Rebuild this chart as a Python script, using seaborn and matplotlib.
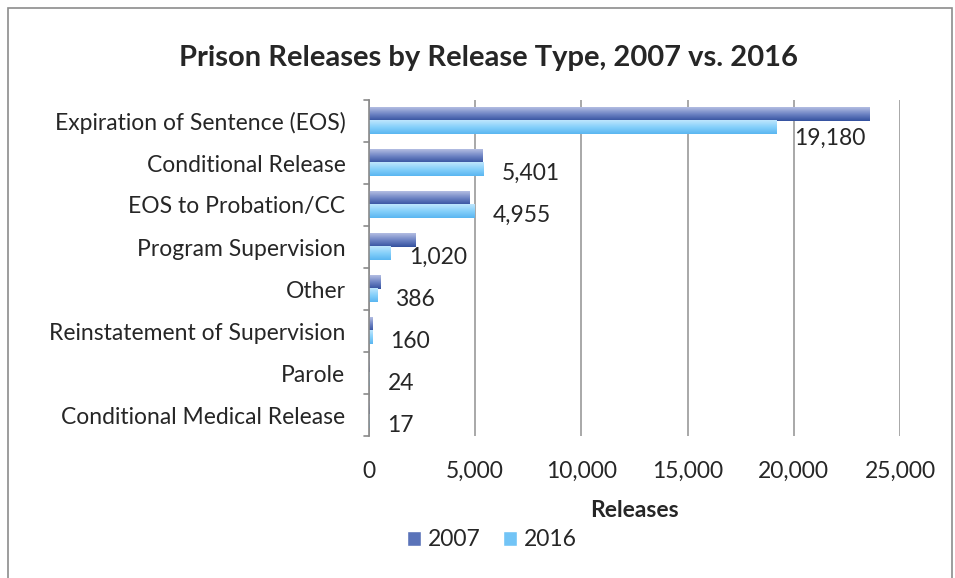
import numpy as np
import pandas as pd
import matplotlib
matplotlib.use("Agg")
import matplotlib.pyplot as plt
import matplotlib.patches as mpatches
from matplotlib.colors import LinearSegmentedColormap
import seaborn as sns

categories = ["Expiration of Sentence (EOS)", "Conditional Release", "EOS to Probation/CC",
              "Program Supervision", "Other", "Reinstatement of Supervision", "Parole",
              "Conditional Medical Release"]
releases_2007 = [23570, 5350, 4750, 2180, 545, 170, 40, 12]
releases_2016 = [19180, 5401, 4955, 1020, 386, 160, 24, 17]
years = ["2007", "2016"]
x_ticks = [0, 5000, 10000, 15000, 20000, 25000]

df = pd.DataFrame({
    "type": categories * 2,
    "year": [years[0]] * len(categories) + [years[1]] * len(categories),
    "releases": releases_2007 + releases_2016,
})

sns.set_theme(style="white")
plt.rcParams['font.family'] = ['Lato', 'DejaVu Sans']
FS = 16.5

fig = plt.figure(figsize=(9.55, 5.78), dpi=100)
ax = fig.add_axes([369/955, 1 - 436/578, 531/955, 336/578])

sns.barplot(data=df, y="type", x="releases", hue="year", order=categories,
            hue_order=years, palette=["#5a73b9", "#72c4f6"], width=0.62,
            orient="h", ax=ax, legend=False)

# gradient fill like the original
grads = {
    0: LinearSegmentedColormap.from_list("g07", ["#b3bde2", "#6e84c4", "#34519f"]),
    1: LinearSegmentedColormap.from_list("g16", ["#bfe6fd", "#86d0fa", "#5ab6f1"]),
}
n = len(categories)
bars = list(ax.patches)
for i, p in enumerate(bars[:2 * n]):
    cmap = grads[i // n]
    x0, y0 = p.get_x(), p.get_y()
    w, h = p.get_width(), p.get_height()
    grad = np.linspace(0, 1, 64).reshape(-1, 1)
    ax.imshow(grad, cmap=cmap, origin="lower", aspect="auto",
              extent=(x0, x0 + w, y0, y0 + h), zorder=3)
    p.set_visible(False)

ax.set_xlim(0, 25000)
ax.set_ylim(n - 0.5, -0.5)
ax.set_xticks(x_ticks)
ax.set_xticklabels([f"{v:,}" for v in x_ticks], fontsize=FS)
ax.tick_params(axis="x", length=0, pad=18)
ax.set_yticks(np.arange(n))
ax.set_yticklabels(categories, fontsize=FS)
ax.tick_params(axis="y", length=0, pad=17)
ax.set_ylabel("")
ax.set_xlabel("Releases", fontsize=FS, fontweight="bold", labelpad=13)

ax.grid(axis="x", color="#9a9a9a", linewidth=1.2)
ax.set_axisbelow(True)
for s in ["top", "right", "bottom"]:
    ax.spines[s].set_visible(False)
ax.spines["left"].set_color("#8a8a8a")
ax.spines["left"].set_linewidth(1.2)
ax.spines["left"].set_zorder(4)

# tick marks between categories on the left axis
for b in np.arange(-0.5, n + 0.5, 1):
    ax.plot([-230, 0], [b, b], color="#8a8a8a", lw=1.2, clip_on=False, zorder=4)

# value labels for 2016
for i, v in enumerate(releases_2016):
    dy = -8 if i == 0 else -3
    ax.annotate(f"{v:,}", xy=(v, i + 0.155), xytext=(13, dy), textcoords="offset points",
                ha="left", va="center", fontsize=FS, zorder=5)

fig.text(488/955, 1 - 58/578, "Prison Releases by Release Type, 2007 vs. 2016",
         ha="center", va="center", fontsize=21, fontweight="bold")

handles = [mpatches.Patch(facecolor="#5a73b9", label="2007"),
           mpatches.Patch(facecolor="#72c4f6", label="2016")]
fig.legend(handles=handles, loc="center", bbox_to_anchor=(492/955, 1 - 540/578),
           ncol=2, frameon=False, fontsize=FS, handlelength=0.6, handleheight=0.6,
           columnspacing=1.0, handletextpad=0.3)

fig.add_artist(mpatches.Rectangle((8/955, -0.05), 944/955, 1 - 8/578 + 0.05,
                                  transform=fig.transFigure, fill=False,
                                  edgecolor="#8c8c8c", linewidth=1.2))

fig.savefig("out.png", dpi=100)
